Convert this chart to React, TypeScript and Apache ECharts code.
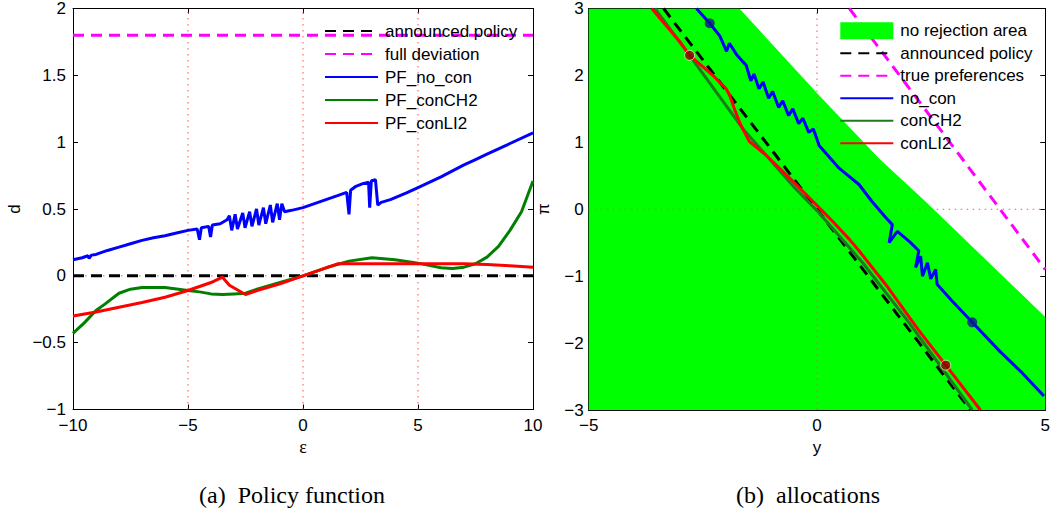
import React, { useEffect, useRef } from "react";
import * as echarts from "echarts";

// ---------- Left panel: policy function ----------
const leftAnnounced: [number, number][] = [[-10, 0], [10, 0]];
const leftFullDeviation: [number, number][] = [[-10, 1.8], [10, 1.8]];
const leftNoCon: [number, number][] = [
  [-10, 0.12], [-9.6, 0.135], [-9.35, 0.15], [-9.3, 0.13], [-9.2, 0.155], [-9, 0.16], [-8.5, 0.19],
  [-8, 0.215], [-7.5, 0.24], [-7, 0.265], [-6.5, 0.285], [-6, 0.3], [-5.5, 0.32], [-5, 0.34],
  [-4.6, 0.35], [-4.5, 0.27], [-4.42, 0.36], [-4.1, 0.37], [-4.02, 0.29], [-3.94, 0.38], [-3.6, 0.39],
  [-3.3, 0.42], [-3.2, 0.45], [-3.1, 0.34], [-2.95, 0.46], [-2.85, 0.35], [-2.62, 0.47], [-2.52, 0.36],
  [-2.32, 0.48], [-2.22, 0.37], [-2.02, 0.5], [-1.92, 0.38], [-1.72, 0.51], [-1.62, 0.39], [-1.42, 0.53],
  [-1.32, 0.4], [-1.12, 0.54], [-1.02, 0.42], [-0.92, 0.54], [-0.8, 0.48], [-0.5, 0.49], [0, 0.51],
  [0.5, 0.54], [1, 0.57], [1.5, 0.6], [1.9, 0.625], [2.0, 0.46], [2.07, 0.64], [2.3, 0.67], [2.6, 0.69],
  [2.85, 0.7], [2.9, 0.51], [2.97, 0.71], [3.15, 0.72], [3.25, 0.53], [3.4, 0.55], [3.8, 0.57],
  [4.5, 0.62], [5, 0.66], [6, 0.74], [7, 0.83], [7.5, 0.87], [8, 0.91], [9, 0.99], [10, 1.07],
];
const leftConCH2: [number, number][] = [
  [-10, -0.43], [-9.5, -0.35], [-9, -0.26], [-8.6, -0.21], [-8, -0.13], [-7.5, -0.1], [-7, -0.087],
  [-6, -0.087], [-5, -0.11], [-4.5, -0.12], [-4, -0.135], [-3.5, -0.14], [-3, -0.135], [-2.5, -0.13],
  [-2, -0.1], [-1, -0.05], [0, 0], [1, 0.06], [2, 0.11], [3, 0.135], [4, 0.12], [5, 0.095], [6, 0.06],
  [6.5, 0.055], [7, 0.065], [7.5, 0.09], [8, 0.14], [8.5, 0.22], [9, 0.34], [9.5, 0.48], [10, 0.71],
];
const leftConLI2: [number, number][] = [
  [-10, -0.3], [-9, -0.27], [-8, -0.235], [-7, -0.2], [-6, -0.16], [-5, -0.11], [-4.5, -0.08],
  [-4, -0.05], [-3.5, -0.01], [-3.2, -0.07], [-2.5, -0.14], [-2, -0.11], [-1, -0.06], [0, 0],
  [1, 0.06], [1.5, 0.09], [3, 0.09], [5, 0.09], [7, 0.09], [8, 0.085], [9, 0.075], [10, 0.065],
];
const leftGridX = [-5, 0, 5];

// ---------- Right panel: allocations ----------
const rightNoRejection: [number, number][] = [
  [-5, 3], [-1.7, 3], [0.05, 1.7], [1.36, 0.76], [2.37, 0.12], [5, -1.61],
];
const rightAnnounced: [number, number][] = [[-3.36, 3], [3.36, -3]];
const rightTruePref: [number, number][] = [[0.71, 3], [5, -0.9]];
const rightNoCon: [number, number][] = [
  [-2.64, 3.0], [-2.35, 2.78], [-2.13, 2.59], [-1.98, 2.36], [-1.92, 2.48], [-1.75, 2.3], [-1.55, 2.15],
  [-1.45, 1.92], [-1.38, 2.02], [-1.27, 1.8], [-1.18, 1.9], [-1.06, 1.66], [-0.97, 1.76], [-0.84, 1.52],
  [-0.75, 1.62], [-0.62, 1.4], [-0.53, 1.5], [-0.4, 1.28], [-0.31, 1.36], [-0.18, 1.15], [-0.08, 1.2],
  [0.05, 0.95], [0.49, 0.61], [0.92, 0.37], [1.2, 0.12], [1.5, -0.12], [1.65, -0.23], [1.58, -0.5],
  [1.76, -0.33], [2.02, -0.48], [2.23, -0.62], [2.16, -0.87], [2.27, -0.7], [2.31, -1.0], [2.42, -0.8],
  [2.49, -1.04], [2.6, -0.9], [2.63, -1.12], [2.96, -1.37], [3.4, -1.69], [4.0, -2.12], [4.5, -2.45],
  [4.97, -2.79],
];
const rightConCH2: [number, number][] = [
  [-3.55, 3], [-2.79, 2.3], [-1.62, 1.2], [-0.5, 0.33], [0, -0.02], [1, -0.8], [2, -1.68], [3.4, -3],
];
const rightConLI2: [number, number][] = [
  [-3.62, 3], [-3.0, 2.5], [-2.79, 2.3], [-2.28, 2.0], [-1.99, 1.8], [-1.91, 1.7], [-1.81, 1.5],
  [-1.67, 1.26], [-1.48, 1.01], [-1.12, 0.81], [-0.82, 0.61], [-0.53, 0.42], [-0.02, 0.07],
  [0.34, -0.18], [0.71, -0.45], [0.92, -0.62], [1.5, -1.12], [2.23, -1.81], [2.82, -2.33], [3.58, -3.0],
];
const rightNoConDots: [number, number][] = [[-2.35, 2.78], [3.4, -1.69]];
const rightConLI2Dots: [number, number][] = [[-2.79, 2.3], [2.82, -2.33]];

const leftLegend = ["announced policy", "full deviation", "PF_no_con", "PF_conCH2", "PF_conLI2"];
const rightLegend = ["no rejection area", "announced policy", "true preferences", "no_con", "conCH2", "conLI2"];

const SANS = "'Liberation Sans', Arial, Helvetica, sans-serif";
const SERIF = "'Liberation Serif', 'Times New Roman', serif";
const fmt = (v: number) => String(v).replace("-", "\u2212");

function axisBase(extra: any) {
  return {
    type: "value",
    axisLine: { show: true, onZero: false, lineStyle: { color: "#000", width: 1 } },
    axisTick: { show: true, inside: true, length: 5, lineStyle: { color: "#000", width: 1 } },
    splitLine: { show: false },
    axisLabel: { show: true, color: "#000", fontSize: 17, fontFamily: SANS, formatter: fmt },
    ...extra,
  };
}

export default function App() {
  const ref = useRef<HTMLDivElement>(null);
  useEffect(() => {
    if (!ref.current) return;
    const chart = echarts.init(ref.current, undefined, { renderer: "svg" });
    const gridDot = { color: "#ff5050", width: 1, type: [1.5, 4.5] as any };
    const vline = (x: number, lo: number, hi: number) => [[x, lo], [x, hi]];
    const legendCommon = {
      orient: "vertical", padding: 0, itemWidth: 53, itemHeight: 17, selectedMode: false,
      itemStyle: { opacity: 0 },
      textStyle: { color: "#000", fontSize: 17, fontFamily: SANS, lineHeight: 17, padding: [0, 0, 0, 2] },
    };
    const option: any = {
      animation: false,
      backgroundColor: "#fff",
      grid: [
        { left: 73, top: 6, width: 460, height: 403.5 },
        { left: 588.7, top: 6, width: 458, height: 404 },
      ],
      xAxis: [
        axisBase({ gridIndex: 0, min: -10, max: 10, interval: 5, position: "bottom",
          axisLabel: { color: "#000", fontSize: 17, fontFamily: SANS, formatter: fmt, margin: 7 },
          name: "\u03b5", nameLocation: "middle", nameGap: 26,
          nameTextStyle: { color: "#000", fontSize: 18, fontFamily: SERIF } }),
        axisBase({ gridIndex: 0, min: -10, max: 10, interval: 5, position: "top", axisLabel: { show: false } }),
        axisBase({ gridIndex: 1, min: -5, max: 5, interval: 5, position: "bottom",
          axisLabel: { color: "#000", fontSize: 17, fontFamily: SANS, formatter: fmt, margin: 7 },
          name: "y", nameLocation: "middle", nameGap: 27,
          nameTextStyle: { color: "#000", fontSize: 17, fontFamily: SANS } }),
        axisBase({ gridIndex: 1, min: -5, max: 5, interval: 5, position: "top", axisLabel: { show: false } }),
      ],
      yAxis: [
        axisBase({ gridIndex: 0, min: -1, max: 2, interval: 0.5, position: "left",
          axisLabel: { color: "#000", fontSize: 17, fontFamily: SANS, formatter: fmt, margin: 7 },
          name: "d", nameLocation: "middle", nameGap: 50,
          nameTextStyle: { color: "#000", fontSize: 17, fontFamily: SANS } }),
        axisBase({ gridIndex: 0, min: -1, max: 2, interval: 0.5, position: "right", axisLabel: { show: false } }),
        axisBase({ gridIndex: 1, min: -3, max: 3, interval: 1, position: "left",
          axisLabel: { color: "#000", fontSize: 17, fontFamily: SANS, formatter: fmt, margin: 5 },
          name: "\u03c0", nameLocation: "middle", nameGap: 37,
          nameTextStyle: { color: "#000", fontSize: 17, fontFamily: SANS } }),
        axisBase({ gridIndex: 1, min: -3, max: 3, interval: 1, position: "right", axisLabel: { show: false } }),
      ],
      legend: [
        { ...legendCommon, data: leftLegend, left: 324, top: 22.5, itemGap: 6 },
        {
          ...legendCommon,
          data: [
            { name: rightLegend[0], icon: "rect", itemStyle: { opacity: 1, color: "#00ff00" } },
            ...rightLegend.slice(1),
          ],
          left: 839.3, top: 22.2, itemGap: 5.5,
        },
      ],
      graphic: [
        { type: "text", x: 292, y: 495, style: { text: "(a)  Policy function", fill: "#000",
          font: "24px " + SERIF, align: "center", verticalAlign: "middle" } },
        { type: "text", x: 808, y: 495, style: { text: "(b)  allocations", fill: "#000",
          font: "24px " + SERIF, align: "center", verticalAlign: "middle" } },
      ],
      series: [
        // left grid lines
        ...leftGridX.map((x) => ({
          type: "line", xAxisIndex: 0, yAxisIndex: 0, data: vline(x, -1, 2), symbol: "none",
          lineStyle: gridDot, z: 1.5, silent: true,
        })),
        { type: "line", xAxisIndex: 0, yAxisIndex: 0, data: [[-10, 0], [10, 0]], symbol: "none",
          lineStyle: gridDot, z: 1.5, silent: true },
        { name: "announced policy", type: "line", xAxisIndex: 0, yAxisIndex: 0, data: leftAnnounced,
          symbol: "none", color: "#000", lineStyle: { color: "#000", width: 3, type: [11, 7] } },
        { name: "full deviation", type: "line", xAxisIndex: 0, yAxisIndex: 0, data: leftFullDeviation,
          symbol: "none", color: "#ff00ff", lineStyle: { color: "#ff00ff", width: 3, type: [11, 7] } },
        { name: "PF_no_con", type: "line", xAxisIndex: 0, yAxisIndex: 0, data: leftNoCon,
          symbol: "none", color: "#0000ff", lineStyle: { color: "#0000ff", width: 3 } },
        { name: "PF_conCH2", type: "line", xAxisIndex: 0, yAxisIndex: 0, data: leftConCH2,
          symbol: "none", color: "#008000", lineStyle: { color: "#008000", width: 3 } },
        { name: "PF_conLI2", type: "line", xAxisIndex: 0, yAxisIndex: 0, data: leftConLI2,
          symbol: "none", color: "#ff0000", lineStyle: { color: "#ff0000", width: 3 } },

        // right panel
        { name: "no rejection area", type: "line", xAxisIndex: 2, yAxisIndex: 2, data: rightNoRejection,
          symbol: "none", color: "#00ff00", lineStyle: { width: 0, color: "#00ff00" },
          areaStyle: { color: "#00ff00", opacity: 1, origin: "start" }, z: 1 },
        { type: "line", xAxisIndex: 2, yAxisIndex: 2, data: vline(0, -3, 3), symbol: "none",
          lineStyle: gridDot, z: 1.5, silent: true },
        { type: "line", xAxisIndex: 2, yAxisIndex: 2, data: [[-5, 0], [5, 0]], symbol: "none",
          lineStyle: gridDot, z: 1.5, silent: true },
        { name: "announced policy", type: "line", xAxisIndex: 2, yAxisIndex: 2, data: rightAnnounced,
          symbol: "none", color: "#000", lineStyle: { color: "#000", width: 3, type: [11, 7] } },
        { name: "true preferences", type: "line", xAxisIndex: 2, yAxisIndex: 2, data: rightTruePref,
          symbol: "none", color: "#ff00ff", lineStyle: { color: "#ff00ff", width: 3, type: [11, 7] } },
        { name: "no_con", type: "line", xAxisIndex: 2, yAxisIndex: 2, data: rightNoCon,
          symbol: "none", color: "#0000ff", lineStyle: { color: "#0000ff", width: 3 } },
        { name: "conCH2", type: "line", xAxisIndex: 2, yAxisIndex: 2, data: rightConCH2,
          symbol: "none", color: "#1e7a1e", lineStyle: { color: "#1e7a1e", width: 3 } },
        { name: "conLI2", type: "line", xAxisIndex: 2, yAxisIndex: 2, data: rightConLI2,
          symbol: "none", color: "#ff0000", lineStyle: { color: "#ff0000", width: 3 } },
        { type: "scatter", xAxisIndex: 2, yAxisIndex: 2, data: rightNoConDots, symbolSize: 10,
          itemStyle: { color: "#0a1a8c" }, z: 3 },
        { type: "scatter", xAxisIndex: 2, yAxisIndex: 2, data: rightConLI2Dots, symbolSize: 10,
          itemStyle: { color: "#8b0000", borderColor: "#f0f0c0", borderWidth: 1 }, z: 3 },
      ],
    };
    chart.setOption(option);
    return () => chart.dispose();
  }, []);
  return (
    <div
      ref={ref}
      style={{ position: "fixed", left: 0, top: 0, width: 1053, height: 513, background: "#fff" }}
    />
  );
}
